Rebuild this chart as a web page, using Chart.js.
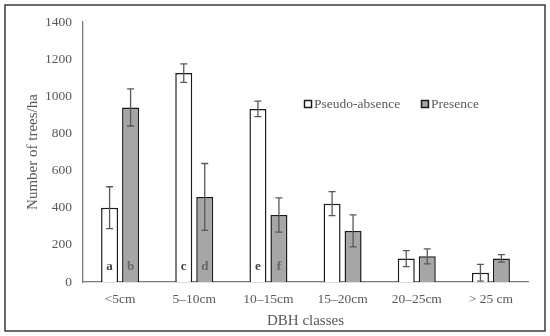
<!DOCTYPE html>
<html>
<head>
<meta charset="utf-8">
<script src="https://cdn.jsdelivr.net/npm/chart.js@4.4.1/dist/chart.umd.min.js"></script>
<style>
html,body{margin:0;padding:0;background:#fff;}
#wrap{width:550px;height:336px;position:relative;}
</style>
</head>
<body>
<div id="wrap"><canvas id="c" width="550" height="336"></canvas></div>
<script>
const categories = ["<5cm", "5\u201310cm", "10\u201315cm", "15\u201320cm", "20\u201325cm", "> 25 cm"];
const seriesNames = ["Pseudo-absence", "Presence"];
const pseudoAbsence = [400, 1125, 932, 422, 126, 50];
const presence = [940, 458, 361, 275, 138, 127];
const pseudoAbsenceErr = [113, 50, 42, 65, 43, 45];
const presenceErr = [100, 180, 92, 86, 40, 20];
const pseudoAbsenceLetters = ["a", "c", "e", "", "", ""];
const presenceLetters = ["b", "d", "f", "", "", ""];
const yTicks = [0, 200, 400, 600, 800, 1000, 1200, 1400];

const SERIF = "'Liberation Serif', 'Times New Roman', serif";
const TXT = "#595959";

const extras = {
  id: "extras",
  beforeDraw(chart) {
    const ctx = chart.ctx;
    ctx.save();
    ctx.fillStyle = "#fff";
    ctx.fillRect(0, 0, chart.width, chart.height);
    ctx.restore();
  },
  afterDatasetsDraw(chart) {
    const ctx = chart.ctx;
    const y = chart.scales.y;
    const errs = [pseudoAbsenceErr, presenceErr];
    const vals = [pseudoAbsence, presence];
    const letters = [pseudoAbsenceLetters, presenceLetters];
    const letterColors = ["#404040", "#666666"];
    ctx.save();
    for (let d = 0; d < 2; d++) {
      const meta = chart.getDatasetMeta(d);
      meta.data.forEach((bar, i) => {
        const v = vals[d][i], e = errs[d][i];
        const yt = y.getPixelForValue(v + e);
        const yb = y.getPixelForValue(Math.max(0, v - e));
        ctx.strokeStyle = "#595959";
        ctx.lineWidth = 1.3;
        ctx.beginPath();
        ctx.moveTo(bar.x, yt); ctx.lineTo(bar.x, yb);
        ctx.moveTo(bar.x - 3.5, yt); ctx.lineTo(bar.x + 3.5, yt);
        ctx.moveTo(bar.x - 3.5, yb); ctx.lineTo(bar.x + 3.5, yb);
        ctx.stroke();
        const L = letters[d][i];
        if (L) {
          ctx.fillStyle = letterColors[d];
          ctx.font = "bold 13px " + SERIF;
          ctx.textAlign = "center";
          ctx.textBaseline = "middle";
          ctx.fillText(L, bar.x, y.bottom - 15);
        }
      });
    }
    // legend
    const ly = 104;
    const items = [{x: 308, fill: "#ffffff"}, {x: 425, fill: "#a6a6a6"}];
    items.forEach((it, k) => {
      ctx.fillStyle = it.fill;
      ctx.strokeStyle = "#1a1a1a";
      ctx.lineWidth = 1.5;
      ctx.fillRect(it.x - 3.5, ly - 3.5, 7, 7);
      ctx.strokeRect(it.x - 3.5, ly - 3.5, 7, 7);
      ctx.fillStyle = TXT;
      ctx.font = "13.5px " + SERIF;
      ctx.textAlign = "left";
      ctx.textBaseline = "middle";
      ctx.fillText(seriesNames[k], it.x + 6, ly + 0.5);
    });
    ctx.restore();
  },
  afterDraw(chart) {
    const ctx = chart.ctx;
    ctx.save();
    ctx.strokeStyle = "#3a3a3a";
    ctx.lineWidth = 1.5;
    ctx.strokeRect(5, 5, 540, 326);
    ctx.restore();
  }
};

new Chart(document.getElementById("c"), {
  type: "bar",
  data: {
    labels: categories,
    datasets: [
      {label: seriesNames[0], data: pseudoAbsence, backgroundColor: "#ffffff", borderColor: "#1a1a1a", borderWidth: 1.5, categoryPercentage: 0.566, barPercentage: 0.81},
      {label: seriesNames[1], data: presence, backgroundColor: "#a6a6a6", borderColor: "#1a1a1a", borderWidth: 1.5, categoryPercentage: 0.566, barPercentage: 0.81}
    ]
  },
  options: {
    responsive: false,
    animation: false,
    devicePixelRatio: 1,
    layout: {padding: {top: 22, right: 22, bottom: 0, left: 20}},
    plugins: {legend: {display: false}, tooltip: {enabled: false}},
    scales: {
      x: {
        grid: {display: false, drawTicks: false},
        border: {display: true, color: "#7a7a7a", width: 1.3},
        ticks: {color: TXT, font: {family: SERIF, size: 13.5}, padding: 9, maxRotation: 0, autoSkip: false},
        title: {display: true, text: "DBH classes", color: TXT, font: {family: SERIF, size: 15}, padding: {top: 0, bottom: 6}},
        afterFit(s) { s.height = 54; }
      },
      y: {
        min: 0, max: 1400,
        afterBuildTicks(s) { s.ticks = yTicks.map(v => ({value: v})); },
        grid: {display: false, drawTicks: false},
        border: {display: true, color: "#7a7a7a", width: 1.3},
        ticks: {color: TXT, font: {family: SERIF, size: 13.5}, padding: 11, callback: v => String(v)},
        title: {display: true, text: "Number of trees/ha", color: TXT, font: {family: SERIF, size: 15}, padding: {bottom: 4}},
        afterFit(s) { s.width = 63; }
      }
    }
  },
  plugins: [extras]
});
</script>
</body>
</html>
